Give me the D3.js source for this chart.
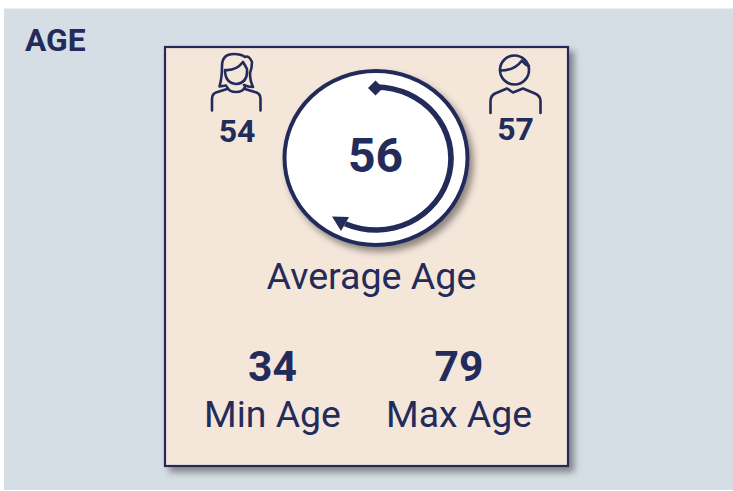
<!DOCTYPE html>
<html><head><meta charset="utf-8">
<script src="https://cdn.jsdelivr.net/npm/d3@7"></script>
<style>html,body{margin:0;padding:0;background:#fff}svg{display:block}text{font-family:Roboto,sans-serif;fill:#232b5a}</style>
</head><body><svg id="c" width="733" height="491"></svg>
<script>
const title = "AGE";
const genderValues = [54, 57];
const averageAge = [56];
const averageLabel = ["Average Age"];
const rangeValues = [34, 79];
const rangeLabels = ["Min Age", "Max Age"];
const ink = "#232b5a";
const svg = d3.select("#c");
const defs = svg.append("defs");
const f1 = defs.append("filter").attr("id","sh").attr("x","-10%").attr("y","-10%").attr("width","125%").attr("height","125%");
f1.append("feDropShadow").attr("dx",5).attr("dy",5).attr("stdDeviation",3.5).attr("flood-color","#000").attr("flood-opacity",0.42);
const f2 = defs.append("filter").attr("id","sh2").attr("x","-15%").attr("y","-15%").attr("width","135%").attr("height","135%");
f2.append("feDropShadow").attr("dx",4).attr("dy",5).attr("stdDeviation",3.5).attr("flood-color","#000").attr("flood-opacity",0.42);

svg.append("rect").attr("x",4).attr("y",8.5).attr("width",729).attr("height",481.5).attr("fill","#d6dee5");
svg.append("text").attr("x",25).attr("y",50.5).attr("font-size",31.8).attr("font-weight",700).text(title);
svg.append("rect").attr("x",165).attr("y",47).attr("width",403).attr("height",419).attr("fill","#f5e6da").attr("stroke",ink).attr("stroke-width",2.2).attr("filter","url(#sh)");

svg.append("ellipse").attr("cx",376).attr("cy",158).attr("rx",91.5).attr("ry",87).attr("fill","#fff").attr("stroke",ink).attr("stroke-width",4).attr("filter","url(#sh2)");

// curved arrow
const rx0=75, ry0=71.5;
const a0 = 0, a1 = Math.PI*1.135;
const arc = d3.arc().innerRadius(ry0-2.7).outerRadius(ry0+2.7).startAngle(a0).endAngle(a1);
svg.append("path").attr("transform",`translate(376,158.5) scale(${rx0/ry0},1)`).attr("d",arc()).attr("fill",ink);
svg.append("path").attr("d","M368 88L375.5 80.5L383 88L375.5 95.5Z").attr("fill",ink);
svg.append("path").attr("d","M332 216.5L349 217L341 231Z").attr("fill",ink);

const center = svg.append("g").attr("text-anchor","middle");
center.selectAll("text.v").data(averageAge).join("text").attr("class","v").attr("x",375.5).attr("y",171.5).attr("font-size",48).attr("font-weight",700).text(d=>d);
center.selectAll("text.l").data(averageLabel).join("text").attr("class","l").attr("x",371.5).attr("y",289).attr("font-size",37.6).text(d=>d);

const gx = d3.scalePoint().domain(d3.range(genderValues.length)).range([237,515.5]);
svg.append("g").attr("text-anchor","middle").selectAll("text").data(genderValues).join("text")
  .attr("x",(d,i)=>gx(i)).attr("y",(d,i)=>i?140:142).attr("font-size",32).attr("font-weight",700).text(d=>d);

const rx = d3.scalePoint().domain(rangeLabels).range([272.5,459]);
const rg = svg.append("g").attr("text-anchor","middle");
rg.selectAll("text.v").data(rangeValues).join("text").attr("class","v").attr("x",(d,i)=>rx(rangeLabels[i])).attr("y",381).attr("font-size",42.6).attr("font-weight",700).text(d=>d);
rg.selectAll("text.l").data(rangeLabels).join("text").attr("class","l").attr("x",d=>rx(d)).attr("y",427).attr("font-size",37.4).text(d=>d);

const ic = svg.append("g").attr("fill","none").attr("stroke",ink).attr("stroke-width",2.6).attr("stroke-linecap","round").attr("stroke-linejoin","round");
// woman
ic.append("path").attr("d","M212 110.5V99Q212 94 216 92.5L227 89");
ic.append("path").attr("d","M260.5 110.5V99Q260.5 94 256.5 92.5L245 89");
ic.append("path").attr("d","M227 87Q229 92 236 92Q243 92 245 87");
ic.append("path").attr("d","M225 70Q236 71 243 62Q246 67 247 69Q248 83 236 84Q225 83 225 70Z");
ic.append("path").attr("d","M226 85.5L219.5 86.5Q222 78 222 66Q222 54 234 54Q241 54 245 57Q249 55 252 62Q252 68 250 73Q250 81 253 87Q248 87 244 85");
// man
ic.append("path").attr("d","M490.5 113V101Q490.5 96 495 93.5L507 88.5L513 92.5L523 88.5L535 93.5Q540.5 96 540.5 101V113");
ic.append("circle").attr("cx",514.5).attr("cy",70).attr("r",14.5);
ic.append("path").attr("d","M500 70.5Q514 71 522 60.5Q525 65 529 66");
</script></body></html>
